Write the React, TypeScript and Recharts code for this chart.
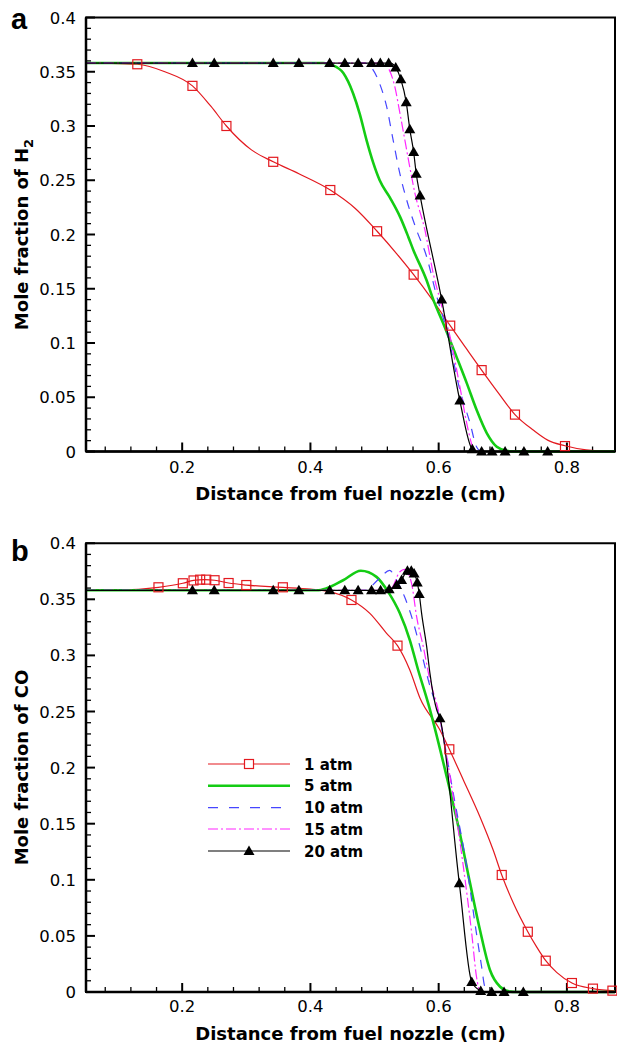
import React from 'react';
import { ComposedChart, Line, XAxis, YAxis, ReferenceArea, ReferenceLine } from 'recharts';

type Pt = [number, number];

// axes
const X_MIN = 0.05;
const X_MAX = 0.875;
const xTicks = [0.08, 0.12, 0.16, 0.2, 0.24, 0.28, 0.32, 0.36, 0.4, 0.44, 0.48, 0.52, 0.56, 0.6, 0.64, 0.68, 0.72, 0.76, 0.8, 0.84];
const xMajor = [0.2, 0.4, 0.6, 0.8];
const yTicks = [
  0, 0.01, 0.02, 0.03, 0.04, 0.05, 0.06, 0.07, 0.08, 0.09, 0.1, 0.11, 0.12, 0.13, 0.14, 0.15, 0.16, 0.17, 0.18, 0.19, 0.2,
  0.21, 0.22, 0.23, 0.24, 0.25, 0.26, 0.27, 0.28, 0.29, 0.3, 0.31, 0.32, 0.33, 0.34, 0.35, 0.36, 0.37, 0.38, 0.39, 0.4,
];
const yMajor = [0, 0.05, 0.1, 0.15, 0.2, 0.25, 0.3, 0.35, 0.4];

const seriesNames = ['1 atm', '5 atm', '10 atm', '15 atm', '20 atm'];

// panel a: H2
const h2_1atm: Pt[] = [
  [0.05, 0.358], [0.09, 0.3578], [0.13, 0.3569], [0.173, 0.35], [0.216, 0.337], [0.245, 0.318], [0.269, 0.3],
  [0.308, 0.278], [0.342, 0.267], [0.382, 0.256], [0.431, 0.241], [0.47, 0.224], [0.504, 0.203], [0.535, 0.182],
  [0.561, 0.163], [0.59, 0.14], [0.618, 0.116], [0.643, 0.095], [0.667, 0.075], [0.693, 0.054], [0.719, 0.034],
  [0.748, 0.0195], [0.77, 0.0105], [0.797, 0.0053], [0.83, 0.0015], [0.875, 0],
];
const h2_1atmMarks: Pt[] = [
  [0.13, 0.3569], [0.216, 0.337], [0.269, 0.3], [0.342, 0.267], [0.431, 0.241], [0.504, 0.203], [0.561, 0.163],
  [0.618, 0.116], [0.667, 0.075], [0.719, 0.034], [0.797, 0.005],
];
const h2_5atm: Pt[] = [
  [0.05, 0.358], [0.42, 0.358], [0.435, 0.356], [0.451, 0.349], [0.4666, 0.33], [0.477, 0.311], [0.4875, 0.287],
  [0.498, 0.266], [0.508, 0.25], [0.524, 0.234], [0.54, 0.216], [0.5525, 0.198], [0.5603, 0.186], [0.581, 0.158],
  [0.5916, 0.14], [0.6072, 0.118], [0.628, 0.087], [0.6438, 0.063], [0.6594, 0.038], [0.675, 0.017],
  [0.6906, 0.0044], [0.706, 0.0007], [0.72, 0], [0.875, 0],
];
const h2_10atm: Pt[] = [
  [0.05, 0.358], [0.485, 0.358], [0.495, 0.354], [0.508, 0.339], [0.5188, 0.318], [0.529, 0.287], [0.5395, 0.256],
  [0.55, 0.232], [0.5656, 0.204], [0.581, 0.18], [0.597, 0.143], [0.6125, 0.112], [0.633, 0.057], [0.649, 0.026],
  [0.659, 0.0044], [0.667, 0], [0.875, 0],
];
const h2_15atm: Pt[] = [
  [0.05, 0.358], [0.513, 0.358], [0.5197, 0.355], [0.5317, 0.336], [0.5395, 0.312], [0.5473, 0.287], [0.555, 0.262],
  [0.563, 0.238], [0.5786, 0.204], [0.5916, 0.164], [0.602, 0.14], [0.6177, 0.106], [0.633, 0.06], [0.646, 0.02],
  [0.654, 0.003], [0.661, 0], [0.875, 0],
];
const h2_20atm: Pt[] = [
  [0.05, 0.358], [0.525, 0.358], [0.533, 0.354], [0.541, 0.343], [0.5494, 0.322], [0.555, 0.297], [0.561, 0.276],
  [0.565, 0.256], [0.571, 0.236], [0.6047, 0.14], [0.633, 0.047], [0.6525, 0.002], [0.66, 0], [0.875, 0],
];
const h2_20atmMarks: Pt[] = [
  [0.216, 0.358], [0.25, 0.358], [0.342, 0.358], [0.382, 0.358], [0.43, 0.358], [0.4536, 0.358], [0.4744, 0.358],
  [0.4953, 0.358], [0.509, 0.358], [0.522, 0.358], [0.533, 0.354], [0.541, 0.343], [0.5494, 0.322], [0.555, 0.297],
  [0.561, 0.276], [0.565, 0.256], [0.571, 0.236], [0.6047, 0.14], [0.633, 0.047], [0.6525, 0.002], [0.667, 0],
  [0.6833, 0], [0.7036, 0], [0.733, 0], [0.77, 0],
];

// panel b: CO
const co_1atm: Pt[] = [
  [0.05, 0.358], [0.1, 0.3582], [0.163, 0.3607], [0.201, 0.3643], [0.2177, 0.3668], [0.235, 0.3675], [0.2505, 0.367],
  [0.2724, 0.3645], [0.3, 0.3627], [0.357, 0.3607], [0.4, 0.359], [0.43, 0.3568], [0.464, 0.3494], [0.4927, 0.3375],
  [0.5188, 0.3197], [0.5358, 0.3087], [0.555, 0.287], [0.5708, 0.262], [0.602, 0.2335], [0.6166, 0.2163],
  [0.6385, 0.189], [0.6645, 0.156], [0.685, 0.1265], [0.6984, 0.1043], [0.7166, 0.079], [0.739, 0.0537],
  [0.753, 0.04], [0.767, 0.0279], [0.784, 0.0175], [0.8078, 0.008], [0.8406, 0.003], [0.875, 0.001],
];
const co_1atmMarks: Pt[] = [
  [0.163, 0.3607], [0.201, 0.3643], [0.2177, 0.3668], [0.228, 0.3675], [0.2375, 0.3675], [0.2505, 0.367],
  [0.2724, 0.3645], [0.3, 0.3627], [0.357, 0.3607], [0.464, 0.3494], [0.5358, 0.3087], [0.6166, 0.2163],
  [0.6984, 0.1043], [0.739, 0.0537], [0.767, 0.0279], [0.8078, 0.008], [0.8406, 0.003], [0.871, 0.0012],
];
const co_5atm: Pt[] = [
  [0.05, 0.358], [0.41, 0.358], [0.425, 0.3598], [0.451, 0.367], [0.4786, 0.3755], [0.503, 0.37], [0.521, 0.3568],
  [0.5395, 0.3375], [0.555, 0.3137], [0.568, 0.287], [0.5838, 0.257], [0.6125, 0.192], [0.633, 0.1414],
  [0.649, 0.0968], [0.6645, 0.055], [0.68, 0.0196], [0.6958, 0.0047], [0.7114, 0.0003], [0.72, 0], [0.875, 0],
];
const co_10atm: Pt[] = [
  [0.05, 0.358], [0.49, 0.358], [0.4978, 0.363], [0.51, 0.37], [0.5236, 0.3757], [0.5344, 0.367], [0.547, 0.352],
  [0.5578, 0.3345], [0.5708, 0.3078], [0.5838, 0.278], [0.602, 0.2424], [0.6228, 0.177], [0.6438, 0.1117],
  [0.659, 0.052], [0.667, 0.0225], [0.672, 0.0047], [0.68, 0], [0.875, 0],
];
const co_15atm: Pt[] = [
  [0.05, 0.358], [0.52, 0.358], [0.5266, 0.3598], [0.5395, 0.3746], [0.547, 0.3767], [0.5578, 0.364],
  [0.5656, 0.3345], [0.576, 0.3078], [0.5864, 0.278], [0.599, 0.252], [0.6177, 0.192], [0.6385, 0.1117],
  [0.6516, 0.052], [0.659, 0.0136], [0.665, 0], [0.875, 0],
];
const co_20atm: Pt[] = [
  [0.05, 0.358], [0.5094, 0.358], [0.5228, 0.3589], [0.5344, 0.3627], [0.5422, 0.3672], [0.5513, 0.3755],
  [0.5573, 0.3755], [0.5617, 0.373], [0.5666, 0.365], [0.5697, 0.3547], [0.5734, 0.3375], [0.5813, 0.3078],
  [0.5864, 0.284], [0.597, 0.2513], [0.602, 0.244], [0.6322, 0.097], [0.6516, 0.009], [0.6656, 0.001], [0.67, 0],
  [0.875, 0],
];
const co_20atmMarks: Pt[] = [
  [0.216, 0.358], [0.25, 0.358], [0.342, 0.358], [0.382, 0.358], [0.43, 0.358], [0.4536, 0.358], [0.4744, 0.358],
  [0.4953, 0.358], [0.5094, 0.358], [0.5228, 0.3589], [0.5344, 0.3627], [0.5422, 0.3672], [0.5513, 0.3755],
  [0.5573, 0.3755], [0.5617, 0.373], [0.5666, 0.365], [0.5697, 0.3547], [0.602, 0.244], [0.6322, 0.097],
  [0.6516, 0.009], [0.6656, 0.001], [0.6828, 0], [0.702, 0], [0.732, 0],
];

const RED = '#e3191f';
const GREEN = '#14cc14';
const BLUE = '#4646ff';
const MAGENTA = '#ff26ff';
const BLACK = '#000';
const FONT = '"DejaVu Sans", sans-serif';

const PLOT_W = 529; // px between the y axis and the right frame

const rows = (pts: Pt[]) => pts.map(([x, y]) => ({ x, y }));
const isIn = (v: number, list: number[]) => list.some((m) => Math.abs(m - v) < 1e-6);
const fmt = (v: number) => String(+v.toFixed(2));

const square = (p: any) => (
  <rect key={`sq-${p.index}`} x={p.cx - 4.5} y={p.cy - 4.5} width={9} height={9} fill="none" stroke={RED} strokeWidth={1.2} />
);
const triangle = (p: any) => (
  <path key={`tr-${p.index}`} d={`M${p.cx},${p.cy - 5.5} L${p.cx + 5.5},${p.cy + 4} L${p.cx - 5.5},${p.cy + 4} Z`} fill={BLACK} />
);

// labels only; the inward tick marks are reference segments below
const XTick = (p: any, labelDy: number) =>
  isIn(p.payload.value, xMajor) ? (
    <text key={`xt-${p.index}`} x={p.x} y={p.y + labelDy} textAnchor="middle" fontSize={16.5} fontFamily={FONT} fill="#000">
      {fmt(p.payload.value)}
    </text>
  ) : (
    <g key={`xt-${p.index}`} />
  );

const YTick = (p: any) =>
  isIn(p.payload.value, yMajor) ? (
    <text key={`yt-${p.index}`} x={p.x - 10} y={p.y + 6} textAnchor="end" fontSize={16.5} fontFamily={FONT} fill="#000">
      {fmt(p.payload.value)}
    </text>
  ) : (
    <g key={`yt-${p.index}`} />
  );

interface PanelProps {
  height: number;
  plotTop: number;
  axisHeight: number;
  labelDy: number;
  s1: Pt[];
  s1Marks: Pt[];
  s5: Pt[];
  s10: Pt[];
  s15: Pt[];
  s20: Pt[];
  s20Marks: Pt[];
}

const Panel: React.FC<PanelProps> = ({ height, plotTop, axisHeight, labelDy, s1, s1Marks, s5, s10, s15, s20, s20Marks }) => {
  const plotH = height - plotTop - axisHeight;
  const yPerPx = 0.4 / plotH;
  const xPerPx = (X_MAX - X_MIN) / PLOT_W;
  return (
    <ComposedChart width={617} height={height} margin={{ top: plotTop, right: 2, bottom: 0, left: 0 }}>
      <XAxis
        type="number"
        dataKey="x"
        domain={[X_MIN, X_MAX]}
        ticks={xTicks}
        interval={0}
        height={axisHeight}
        tickSize={0}
        tickMargin={0}
        tickLine={false}
        axisLine={{ stroke: '#000', strokeWidth: 2.5 }}
        tick={(p: any) => XTick(p, labelDy)}
      />
      <YAxis
        type="number"
        dataKey="y"
        domain={[0, 0.4]}
        ticks={yTicks}
        interval={0}
        width={86}
        tickSize={0}
        tickMargin={0}
        tickLine={false}
        axisLine={{ stroke: '#000', strokeWidth: 2.5 }}
        tick={YTick}
      />
      <ReferenceArea x1={X_MIN} x2={X_MAX} y1={0} y2={0.4} fill="none" stroke="#000" strokeWidth={2} ifOverflow="visible" />
      {xTicks.map((v) => {
        const major = isIn(v, xMajor);
        return (
          <ReferenceLine
            key={`xm-${v}`}
            segment={[{ x: v, y: 0 }, { x: v, y: (major ? 9 : 5) * yPerPx }]}
            stroke="#000"
            strokeWidth={major ? 2 : 1.3}
            ifOverflow="visible"
          />
        );
      })}
      {yTicks.map((v) => {
        const major = isIn(v, yMajor);
        return (
          <ReferenceLine
            key={`ym-${v}`}
            segment={[{ x: X_MIN, y: v }, { x: X_MIN + (major ? 9 : 5) * xPerPx, y: v }]}
            stroke="#000"
            strokeWidth={major ? 2 : 1.3}
            ifOverflow="visible"
          />
        );
      })}
      <Line data={rows(s1)} dataKey="y" type="monotone" stroke={RED} strokeWidth={1.2} dot={false} activeDot={false} isAnimationActive={false} />
      <Line data={rows(s5)} dataKey="y" type="monotone" stroke={GREEN} strokeWidth={2.6} dot={false} activeDot={false} isAnimationActive={false} />
      <Line data={rows(s10)} dataKey="y" type="monotone" stroke={BLUE} strokeWidth={1.2} strokeDasharray="9 8" dot={false} activeDot={false} isAnimationActive={false} />
      <Line data={rows(s15)} dataKey="y" type="monotone" stroke={MAGENTA} strokeWidth={1.2} strokeDasharray="10 3 2 3" dot={false} activeDot={false} isAnimationActive={false} />
      <Line data={rows(s20)} dataKey="y" type="monotone" stroke={BLACK} strokeWidth={1.2} dot={false} activeDot={false} isAnimationActive={false} />
      <Line data={rows(s1Marks)} dataKey="y" stroke="none" dot={square} activeDot={false} isAnimationActive={false} />
      <Line data={rows(s20Marks)} dataKey="y" stroke="none" dot={triangle} activeDot={false} isAnimationActive={false} />
    </ComposedChart>
  );
};

const legendRows = [764, 785.7, 807.7, 829, 851];

const App: React.FC = () => (
  <div style={{ position: 'absolute', left: 0, top: 0, width: 617, height: 1044, background: '#fff' }}>
    <div style={{ position: 'absolute', left: 0, top: 0 }}>
      <Panel height={520} plotTop={17.5} axisHeight={68.5} labelDy={21.5}
        s1={h2_1atm} s1Marks={h2_1atmMarks} s5={h2_5atm} s10={h2_10atm} s15={h2_15atm} s20={h2_20atm} s20Marks={h2_20atmMarks} />
    </div>
    <div style={{ position: 'absolute', left: 0, top: 520 }}>
      <Panel height={524} plotTop={23.2} axisHeight={52} labelDy={20}
        s1={co_1atm} s1Marks={co_1atmMarks} s5={co_5atm} s10={co_10atm} s15={co_15atm} s20={co_20atm} s20Marks={co_20atmMarks} />
    </div>
    <svg width={617} height={1044} style={{ position: 'absolute', left: 0, top: 0, pointerEvents: 'none' }}>
      <text x={11} y={29} fontSize={29} fontWeight="bold" fontFamily='"Liberation Sans", Arial, sans-serif'>a</text>
      <text x={11} y={561} fontSize={29} fontWeight="bold" fontFamily='"Liberation Sans", Arial, sans-serif'>b</text>

      <text transform="rotate(-90, 27.5, 234.5)" x={27.5} y={234.5} textAnchor="middle" fontSize={18} fontWeight="bold" fontFamily={FONT}>
        Mole fraction of H<tspan dy={5} fontSize={13}>2</tspan>
      </text>
      <text transform="rotate(-90, 27.5, 767.5)" x={27.5} y={767.5} textAnchor="middle" fontSize={18} fontWeight="bold" fontFamily={FONT}>
        Mole fraction of CO
      </text>
      <text x={350.5} y={500} textAnchor="middle" fontSize={18} fontWeight="bold" fontFamily={FONT}>
        Distance from fuel nozzle (cm)
      </text>
      <text x={350.5} y={1039.5} textAnchor="middle" fontSize={18} fontWeight="bold" fontFamily={FONT}>
        Distance from fuel nozzle (cm)
      </text>

      {/* legend */}
      <line x1={208} x2={290} y1={legendRows[0]} y2={legendRows[0]} stroke={RED} strokeWidth={1.2} />
      <rect x={244.5} y={legendRows[0] - 4.5} width={9} height={9} fill="#fff" stroke={RED} strokeWidth={1.2} />
      <line x1={208} x2={290} y1={legendRows[1]} y2={legendRows[1]} stroke={GREEN} strokeWidth={2.6} />
      <line x1={208} x2={290} y1={legendRows[2]} y2={legendRows[2]} stroke={BLUE} strokeWidth={1.2} strokeDasharray="10 11" />
      <line x1={208} x2={290} y1={legendRows[3]} y2={legendRows[3]} stroke={MAGENTA} strokeWidth={1.2} strokeDasharray="10 3 2 3" />
      <line x1={208} x2={290} y1={legendRows[4]} y2={legendRows[4]} stroke={BLACK} strokeWidth={1.2} />
      <path d={`M249,${legendRows[4] - 5.5} L254.5,${legendRows[4] + 4} L243.5,${legendRows[4] + 4} Z`} fill={BLACK} />
      {seriesNames.map((n, i) => (
        <text key={n} x={304} y={legendRows[i] + 5.5} fontSize={15} fontWeight="bold" fontFamily={FONT}>{n}</text>
      ))}
    </svg>
  </div>
);

export default App;
